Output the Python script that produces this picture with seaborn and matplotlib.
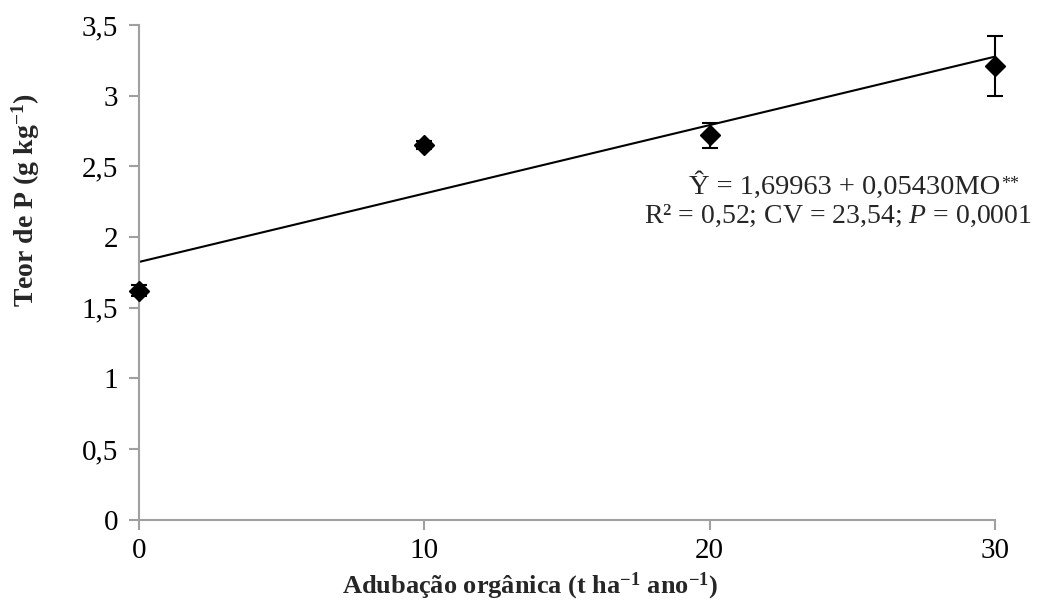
import matplotlib
matplotlib.use("Agg")
import matplotlib.pyplot as plt
import seaborn as sns
import pandas as pd

# Data
doses = [0, 10, 20, 30]
teor_p = [1.62, 2.65, 2.72, 3.21]
erro = [0.04, 0.03, 0.09, 0.21]

yticks = [0, 0.5, 1, 1.5, 2, 2.5, 3, 3.5]
xticks = [0, 10, 20, 30]

eq_line1 = 'Ŷ = 1,69963 + 0,05430MO'
eq_sup = '**'
eq_line2 = r'R² = 0,52; CV = 23,54; $\mathit{P}$ = 0,0001'

df = pd.DataFrame({'dose': doses, 'teor': teor_p, 'erro': erro})

sns.set_theme(style="ticks")
plt.rcParams['font.family'] = ['Liberation Serif', 'DejaVu Serif']
plt.rcParams['mathtext.fontset'] = 'custom'
plt.rcParams['mathtext.rm'] = 'Liberation Serif'
plt.rcParams['mathtext.it'] = 'Liberation Serif:italic'
plt.rcParams['mathtext.bf'] = 'Liberation Serif:bold'

W, H = 1055, 610
fig, ax = plt.subplots(figsize=(W / 100, H / 100), dpi=100)
fig.subplots_adjust(left=0.132, right=0.943, top=0.959, bottom=0.148)

# Linear trend line through the means
sns.regplot(data=df, x='dose', y='teor', scatter=False, ci=None, ax=ax,
            line_kws={'color': 'black', 'linewidth': 1.5})

# Means with error bars
ax.errorbar(df['dose'], df['teor'], yerr=df['erro'], fmt='D', color='black',
            markersize=10, ecolor='black', elinewidth=1.5, capsize=6,
            capthick=1.5, clip_on=False, zorder=5)

ax.set_xlim(0, 30)
ax.set_ylim(0, 3.5)
ax.set_xticks(xticks)
ax.set_yticks(yticks)
ax.yaxis.set_major_formatter(plt.FuncFormatter(lambda v, loc: '{:g}'.format(v).replace('.', ',')))

sns.despine(ax=ax)
for side in ['left', 'bottom']:
    ax.spines[side].set_color('#a0a0a0')
    ax.spines[side].set_linewidth(1.5)
ax.tick_params(axis='both', colors='#a0a0a0', width=1.5, length=7,
               labelcolor='black', labelsize=21)
ax.tick_params(axis='x', pad=6)
ax.tick_params(axis='y', pad=8)

ax.set_xlabel(r'Adubação orgânica (t ha$^{\mathbf{-1}}$ ano$^{\mathbf{-1}}$)',
              fontsize=19, fontweight='bold')
ax.set_ylabel(r'Teor de P (g kg$^{\mathbf{-1}}$)',
              fontsize=20, fontweight='bold')
# Excel places the axis titles off-centre; anchor them by their centres
ax.xaxis.label.set_va('center')
ax.yaxis.label.set_va('center')
ax.xaxis.set_label_coords(0.457, -0.135)
ax.yaxis.set_label_coords(-0.133, 0.645)

# Regression equation (pixel positions measured from the top)
t1 = ax.text(845, H - 186, eq_line1, transform=None, fontsize=20.5,
             ha='center', va='center')
ax.text(838, H - 216, eq_line2, transform=None, fontsize=20,
        ha='center', va='center')
fig.canvas.draw()
bb = t1.get_window_extent()
ax.text(bb.x1 + 1, bb.y1 - 4, eq_sup, transform=None, fontsize=13,
        ha='left', va='top')

fig.savefig('out.png', dpi=100)
